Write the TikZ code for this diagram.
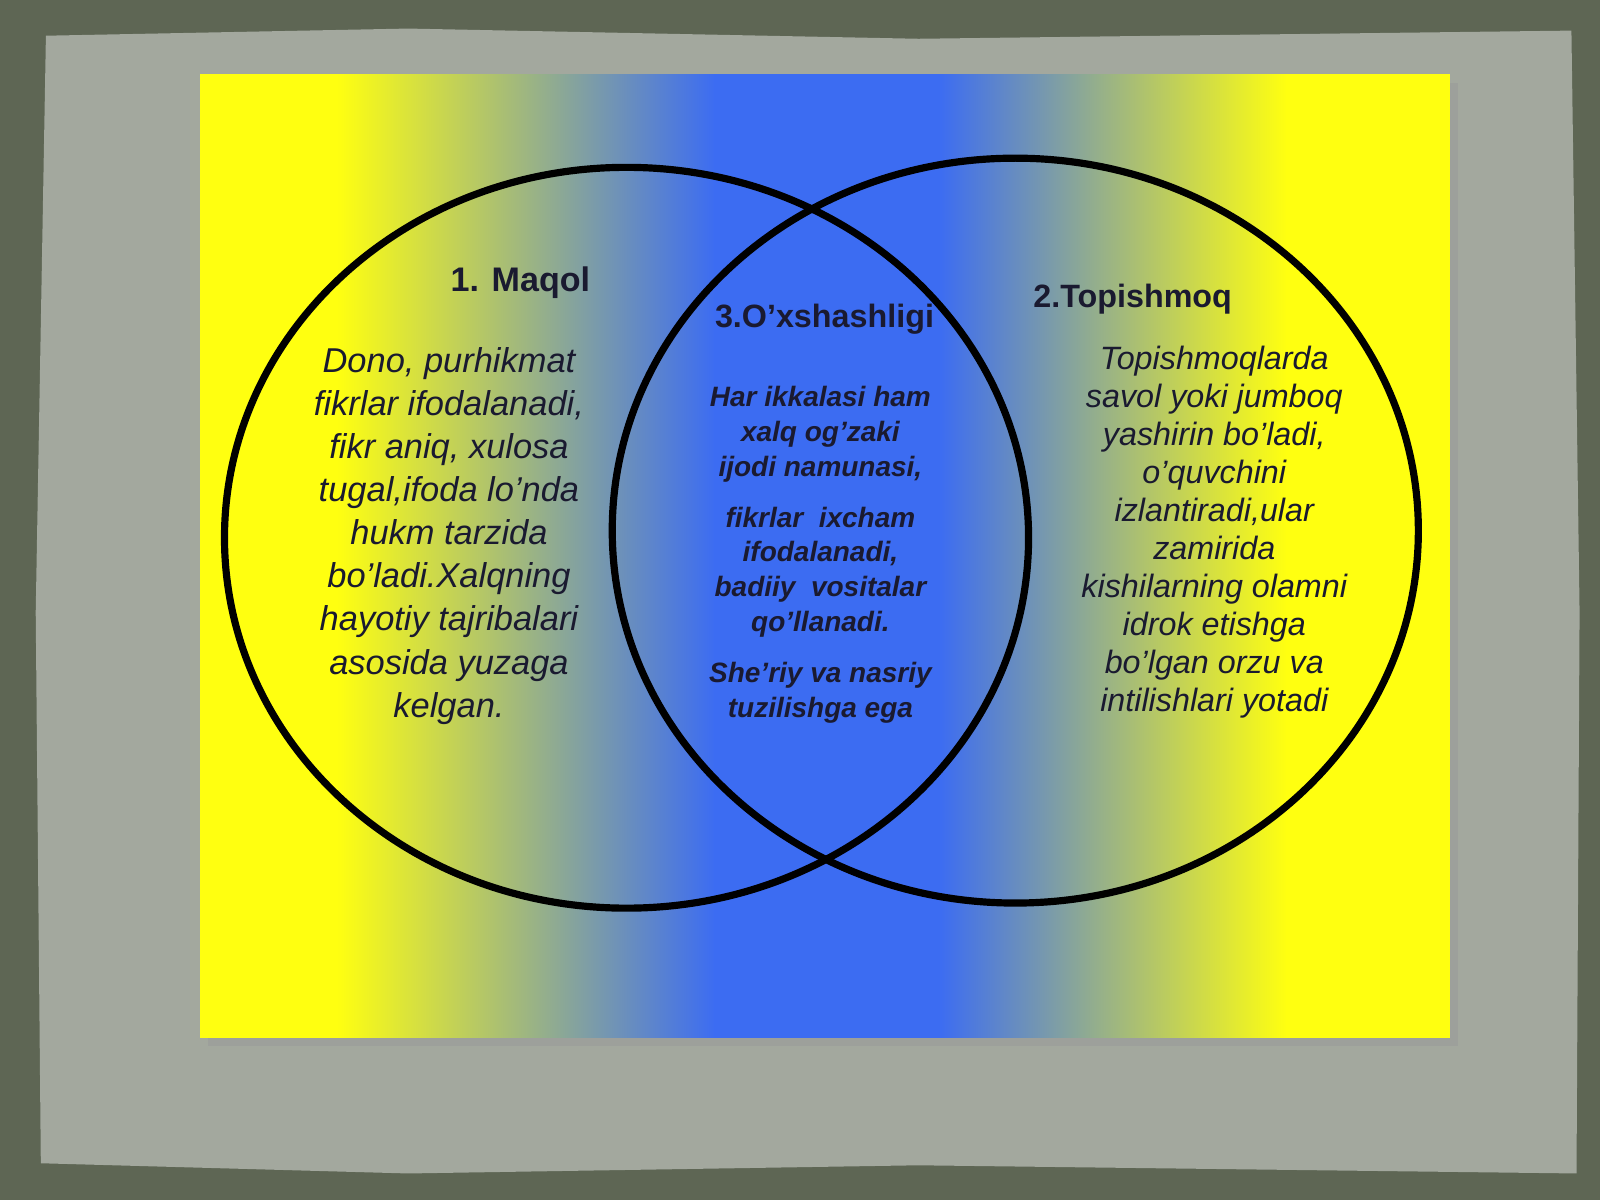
\documentclass[tikz,border=0pt]{standalone}
\usepackage{fontspec}
\setmainfont{Liberation Sans}
\definecolor{bgdark}{HTML}{5E6654}
\definecolor{paper}{HTML}{A3A89E}
\definecolor{yel}{HTML}{FFFF10}
\definecolor{blu}{HTML}{3C6CF2}
\definecolor{txt}{HTML}{1A1A30}
\tikzset{lbl/.style={align=center,text=txt,inner sep=0pt},
  ring/.style={draw=black,line width=2pt}}
\begin{document}
\begin{tikzpicture}[x=0.01cm,y=-0.01cm]
\useasboundingbox (0,0) rectangle (1568,1176);
\fill[bgdark] (0,0) rectangle (1568,1176);
\fill[paper] (45,35) -- (400,28) -- (900,38) -- (1540,30) -- (1548,600) -- (1545,1150) -- (900,1142) -- (400,1150) -- (40,1140) -- (35,600) -- cycle;
\fill[black!40,opacity=0.5] (204,81) rectangle (1429,1025);
\fill[yel] (196,73) rectangle (331,1017);
\shade[left color=yel,right color=blu] (330,73) rectangle (701,1017);
\fill[blu] (700,73) rectangle (921,1017);
\shade[left color=blu,right color=yel] (920,73) rectangle (1261,1017);
\fill[yel] (1260,73) rectangle (1421,1017);
\draw[ring] (614,527) ellipse [x radius=394,y radius=363];
\draw[ring] (995,520) ellipse [x radius=395,y radius=365];
\node[lbl,font=\bfseries\fontsize{9.5}{12}\selectfont] (h1) at (510,277) {1. Maqol};
\node[lbl,font=\bfseries\fontsize{9}{12}\selectfont] (h3) at (808,313) {3.O’xshashligi};
\node[lbl,font=\bfseries\fontsize{9}{12}\selectfont] (h2) at (1110,293) {2.Topishmoq};
\node[lbl,anchor=north,font=\itshape\fontsize{9.6}{12}\selectfont] (t1) at (440,340) {Dono, purhikmat\\fikrlar ifodalanadi,\\fikr aniq, xulosa\\tugal,ifoda lo’nda\\hukm tarzida\\bo’ladi.Xalqning\\hayotiy tajribalari\\asosida yuzaga\\kelgan.};
\node[lbl,anchor=north,font=\bfseries\itshape\fontsize{7.8}{9.7}\selectfont] (t3a) at (804,378) {Har ikkalasi ham\\xalq og’zaki\\ijodi namunasi,};
\node[lbl,anchor=north,font=\bfseries\itshape\fontsize{7.8}{9.7}\selectfont] (t3b) at (804,496) {fikrlar\ \ ixcham\\ifodalanadi,\\badiiy\ \ vositalar\\qo’llanadi.};
\node[lbl,anchor=north,font=\bfseries\itshape\fontsize{7.8}{9.7}\selectfont] (t3c) at (804,648) {She’riy va nasriy\\tuzilishga ega};
\node[lbl,anchor=north,font=\itshape\fontsize{9}{10.6}\selectfont] (t2) at (1190,338) {Topishmoqlarda\\savol yoki jumboq\\yashirin bo’ladi,\\o’quvchini\\izlantiradi,ular\\zamirida\\kishilarning olamni\\idrok etishga\\bo’lgan orzu va\\intilishlari yotadi};
\end{tikzpicture}
\end{document}
